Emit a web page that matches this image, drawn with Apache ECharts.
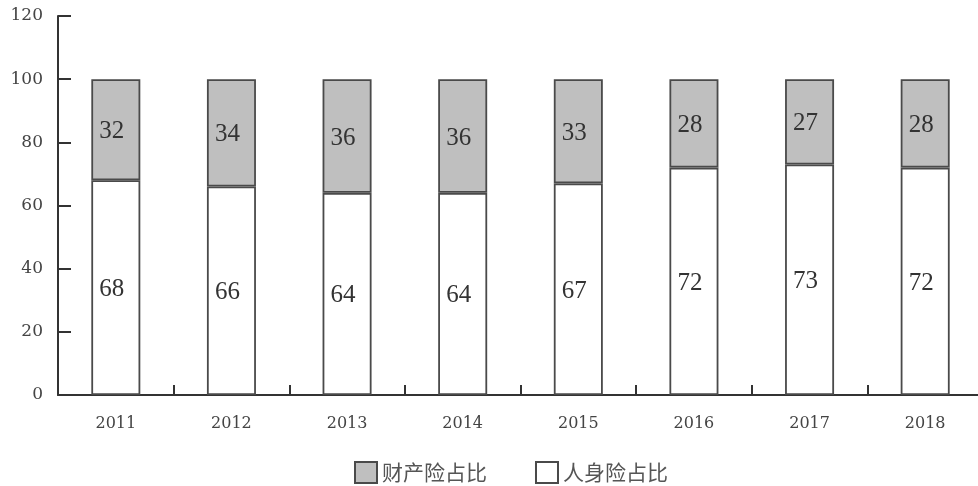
<!DOCTYPE html>
<html><head><meta charset="utf-8">
<script src="https://cdn.jsdelivr.net/npm/echarts@6/dist/echarts.min.js"></script>
<style>html,body{margin:0;padding:0;background:#fff;overflow:hidden;width:978px;height:486px}#c{width:990px;height:486px}</style>
</head><body><div id="c"></div>
<script>
const years = ['2011','2012','2013','2014','2015','2016','2017','2018'];
const lifeShare = [68,66,64,64,67,72,73,72];
const propertyShare = [32,34,36,36,33,28,27,28];
const yTicks = [0,20,40,60,80,100,120];

const chart = echarts.init(document.getElementById('c'));
const serif = '"Liberation Serif","DejaVu Serif",serif';
const axisFont = '"DejaVu Serif",serif';
const labelStyle = {show:true, position:'inside', offset:[-4,2], color:'#333', fontFamily:serif, fontSize:25};
chart.setOption({
  animation:false,
  backgroundColor:'#fff',
  grid:{left:58, top:16, width:925, height:379, containLabel:false},
  legend:{
    top:461, left:354, padding:0, itemWidth:22, itemHeight:21, itemGap:48, icon:'rect',
    textStyle:{fontFamily:'"Noto Sans CJK SC",sans-serif', fontSize:21, lineHeight:22, color:'#555'},
    data:['财产险占比','人身险占比']
  },
  xAxis:{
    type:'category', data:years,
    axisLine:{lineStyle:{color:'#333', width:2}},
    axisTick:{show:true, interval:0, inside:true, length:10, lineStyle:{color:'#333', width:2}},
    axisLabel:{fontFamily:axisFont, fontSize:16, color:'#444', margin:21}
  },
  yAxis:{
    type:'value', min:0, max:120, interval:20,
    splitLine:{show:false},
    axisLine:{show:true, lineStyle:{color:'#333', width:2}},
    axisTick:{show:true, inside:true, length:13, lineStyle:{color:'#333', width:2}},
    axisLabel:{fontFamily:axisFont, fontSize:17, color:'#444', margin:15,
      formatter:v=>yTicks.includes(v)?String(v):''}
  },
  series:[
    {name:'人身险占比', type:'bar', stack:'s', barWidth:49, data:lifeShare,
     itemStyle:{color:'#fff', borderColor:'#4a4a4a', borderWidth:1.8},
     label:labelStyle},
    {name:'财产险占比', type:'bar', stack:'s', barWidth:49, data:propertyShare,
     itemStyle:{color:'#bfbfbf', borderColor:'#4a4a4a', borderWidth:1.8},
     label:labelStyle}
  ]
});
</script></body></html>
